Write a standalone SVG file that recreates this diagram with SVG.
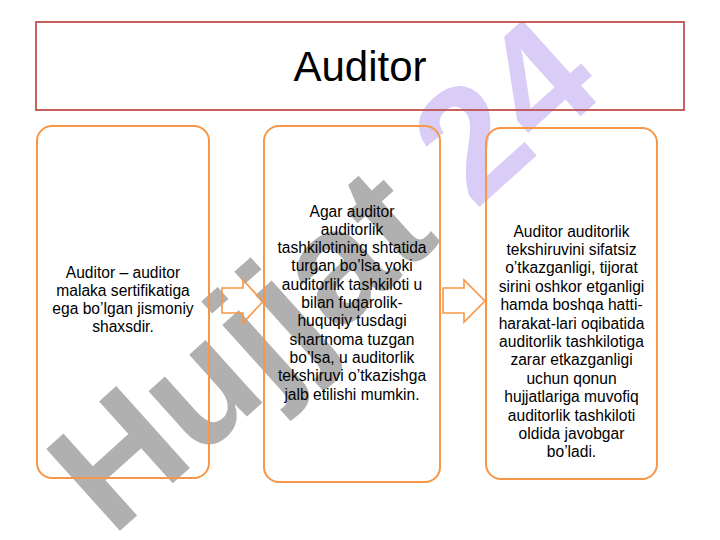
<svg xmlns="http://www.w3.org/2000/svg" width="720" height="540" viewBox="0 0 720 540">
<style>
.box{fill:none;stroke:#f79646;stroke-width:2}
.arr{fill:none;stroke:#f79646;stroke-width:1.6;stroke-linejoin:miter}
.t{font-family:"Liberation Sans",Arial,sans-serif;font-size:15.6px;fill:#000000;text-anchor:middle}
.title{font-family:"Liberation Sans",Arial,sans-serif;font-size:42px;fill:#000;text-anchor:middle}
.wm{font-family:"Liberation Sans",Arial,sans-serif;font-weight:bold;font-size:160px}
</style>
<rect width="720" height="540" fill="#ffffff"/>
<g id="watermark" transform="translate(112,538) rotate(-42)">
<text class="wm" x="0" y="0" fill="#b0b0b0">Hujjat <tspan fill="#d9ccf7">24</tspan></text>
</g>
<g id="title">
<rect x="36" y="22" width="648" height="88" fill="none" stroke="#c0504d" stroke-width="1.8"/>
<text class="title" x="360" y="81">Auditor</text>
</g>
<g id="node1">
<rect class="box" x="37" y="126" width="172" height="352" rx="15"/>
<text class="t" x="123" y="278">Auditor – auditor</text>
<text class="t" x="123" y="296">malaka sertifikatiga</text>
<text class="t" x="123" y="314">ega bo’lgan jismoniy</text>
<text class="t" x="123" y="332">shaxsdir.</text>
</g>
<g id="node2">
<rect class="box" x="264" y="126" width="176" height="356" rx="15"/>
<text class="t" x="352" y="216.5">Agar auditor</text>
<text class="t" x="352" y="234.8">auditorlik</text>
<text class="t" x="352" y="253.1">tashkilotining shtatida</text>
<text class="t" x="352" y="271.4">turgan bo’lsa yoki</text>
<text class="t" x="352" y="289.7">auditorlik tashkiloti u</text>
<text class="t" x="352" y="308">bilan fuqarolik-</text>
<text class="t" x="352" y="326.3">huquqiy tusdagi</text>
<text class="t" x="352" y="344.6">shartnoma tuzgan</text>
<text class="t" x="352" y="362.9">bo’lsa, u auditorlik</text>
<text class="t" x="352" y="381.2">tekshiruvi o’tkazishga</text>
<text class="t" x="352" y="399.5">jalb etilishi mumkin.</text>
</g>
<g id="node3">
<rect class="box" x="486" y="128" width="171" height="351" rx="15"/>
<text class="t" x="571.5" y="236.5">Auditor auditorlik</text>
<text class="t" x="571.5" y="254.9">tekshiruvini sifatsiz</text>
<text class="t" x="571.5" y="273.3">o’tkazganligi, tijorat</text>
<text class="t" x="571.5" y="291.7">sirini oshkor etganligi</text>
<text class="t" x="571.5" y="310.1">hamda boshqa hatti-</text>
<text class="t" x="571.5" y="328.5">harakat-lari oqibatida</text>
<text class="t" x="571.5" y="346.9">auditorlik tashkilotiga</text>
<text class="t" x="571.5" y="365.3">zarar etkazganligi</text>
<text class="t" x="571.5" y="383.7">uchun qonun</text>
<text class="t" x="571.5" y="402.1">hujjatlariga muvofiq</text>
<text class="t" x="571.5" y="420.5">auditorlik tashkiloti</text>
<text class="t" x="571.5" y="438.9">oldida javobgar</text>
<text class="t" x="571.5" y="457.3">bo’ladi.</text>
</g>
<g id="connectors">
<path class="arr" d="M222,288 L243,288 L243,280 L263,301.5 L243,323 L243,313 L222,313 Z"/>
<path class="arr" d="M443,288 L464,288 L464,280 L485,301 L464,322 L464,313 L443,313 Z"/>
</g>
</svg>
